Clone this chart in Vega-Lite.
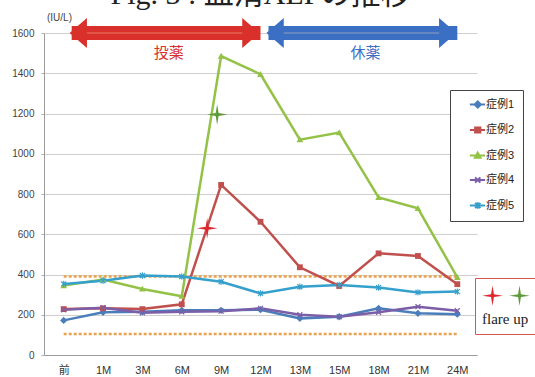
{
  "$schema": "https://vega.github.io/schema/vega-lite/v6.json",
  "width": 433,
  "height": 322,
  "autosize": {"type": "none"},
  "padding": {"left": 44, "top": 33, "right": 58, "bottom": 22},
  "background": "white",
  "title": {
    "text": "Fig. 3 : 血清ALPの推移",
    "anchor": "middle",
    "font": "Liberation Serif, Noto Sans CJK JP",
    "fontSize": 30,
    "fontWeight": "normal",
    "color": "#222222",
    "offset": 2
  },
  "config": {
    "view": {"stroke": null},
    "font": "Liberation Sans, Noto Sans CJK JP"
  },
  "datasets": {
    "alp": [
      {"group": "症例1", "time": "前", "alp": 172},
      {"group": "症例1", "time": "1M", "alp": 212},
      {"group": "症例1", "time": "3M", "alp": 215},
      {"group": "症例1", "time": "6M", "alp": 222},
      {"group": "症例1", "time": "9M", "alp": 222},
      {"group": "症例1", "time": "12M", "alp": 225},
      {"group": "症例1", "time": "13M", "alp": 182},
      {"group": "症例1", "time": "15M", "alp": 190},
      {"group": "症例1", "time": "18M", "alp": 232},
      {"group": "症例1", "time": "21M", "alp": 207},
      {"group": "症例1", "time": "24M", "alp": 203},
      {"group": "症例2", "time": "前", "alp": 228},
      {"group": "症例2", "time": "1M", "alp": 232},
      {"group": "症例2", "time": "3M", "alp": 228},
      {"group": "症例2", "time": "6M", "alp": 252},
      {"group": "症例2", "time": "9M", "alp": 845},
      {"group": "症例2", "time": "12M", "alp": 662},
      {"group": "症例2", "time": "13M", "alp": 436},
      {"group": "症例2", "time": "15M", "alp": 343},
      {"group": "症例2", "time": "18M", "alp": 505},
      {"group": "症例2", "time": "21M", "alp": 492},
      {"group": "症例2", "time": "24M", "alp": 352},
      {"group": "症例3", "time": "前", "alp": 345},
      {"group": "症例3", "time": "1M", "alp": 375},
      {"group": "症例3", "time": "3M", "alp": 328},
      {"group": "症例3", "time": "6M", "alp": 292},
      {"group": "症例3", "time": "9M", "alp": 1485},
      {"group": "症例3", "time": "12M", "alp": 1395},
      {"group": "症例3", "time": "13M", "alp": 1070},
      {"group": "症例3", "time": "15M", "alp": 1105},
      {"group": "症例3", "time": "18M", "alp": 783},
      {"group": "症例3", "time": "21M", "alp": 729},
      {"group": "症例3", "time": "24M", "alp": 386},
      {"group": "症例4", "time": "前", "alp": 225},
      {"group": "症例4", "time": "1M", "alp": 235},
      {"group": "症例4", "time": "3M", "alp": 210},
      {"group": "症例4", "time": "6M", "alp": 215},
      {"group": "症例4", "time": "9M", "alp": 218},
      {"group": "症例4", "time": "12M", "alp": 232},
      {"group": "症例4", "time": "13M", "alp": 200},
      {"group": "症例4", "time": "15M", "alp": 190},
      {"group": "症例4", "time": "18M", "alp": 212},
      {"group": "症例4", "time": "21M", "alp": 240},
      {"group": "症例4", "time": "24M", "alp": 220},
      {"group": "症例5", "time": "前", "alp": 353},
      {"group": "症例5", "time": "1M", "alp": 369},
      {"group": "症例5", "time": "3M", "alp": 395},
      {"group": "症例5", "time": "6M", "alp": 390},
      {"group": "症例5", "time": "9M", "alp": 364},
      {"group": "症例5", "time": "12M", "alp": 306},
      {"group": "症例5", "time": "13M", "alp": 339},
      {"group": "症例5", "time": "15M", "alp": 348},
      {"group": "症例5", "time": "18M", "alp": 335},
      {"group": "症例5", "time": "21M", "alp": 311},
      {"group": "症例5", "time": "24M", "alp": 315}
    ],
    "flare": [
      {"group": "症例2", "time": "9M", "alp": 630},
      {"group": "症例3", "time": "9M", "alp": 1195}
    ],
    "limits": [
      {"limit": 104},
      {"limit": 390}
    ],
    "phases": [
      {"group": "投薬", "start": "前", "end": "12M", "mid": "6M"},
      {"group": "休薬", "start": "12M", "end": "24M", "mid": "18M"}
    ]
  },
  "layer": [
    {
      "data": {"name": "limits"},
      "mark": {"type": "rule", "color": "#e9a24e", "strokeWidth": 2.5, "strokeDash": [3, 2]},
      "encoding": {
        "x": {
          "datum": "前",
          "type": "ordinal",
          "scale": {"type": "point", "padding": 0.5, "domain": ["前", "1M", "3M", "6M", "9M", "12M", "13M", "15M", "18M", "21M", "24M"]},
          "axis": {
            "title": null,
            "labelAngle": 0,
            "labelFontSize": 11,
            "labelColor": "#333333",
            "labelPadding": 9,
            "domainColor": "#9a9a9a",
            "ticks": false,
            "grid": false
          }
        },
        "x2": {"datum": "24M"},
        "y": {
          "field": "limit",
          "type": "quantitative",
          "scale": {"domain": [0, 1600], "nice": false},
          "axis": {
            "values": [0, 200, 400, 600, 800, 1000, 1200, 1400, 1600],
            "format": "d",
            "title": "(IU/L)",
            "titleAngle": 0,
            "titleAlign": "center",
            "titleBaseline": "middle",
            "titleX": 15,
            "titleY": -16,
            "titleFontSize": 10,
            "titleFontWeight": "normal",
            "titleColor": "#444444",
            "labelFontSize": 10,
            "labelColor": "#444444",
            "labelPadding": 7,
            "tickSize": 3,
            "tickColor": "#b0b0b0",
            "domainColor": "#9a9a9a",
            "gridColor": "#cfcfcf",
            "gridWidth": 1
          }
        }
      }
    },
    {
      "data": {"name": "alp"},
      "mark": {"type": "line", "strokeWidth": 2.5},
      "encoding": {
        "x": {"field": "time", "type": "ordinal"},
        "y": {"field": "alp", "type": "quantitative"},
        "color": {
          "field": "group",
          "type": "nominal",
          "scale": {
            "domain": ["症例1", "症例2", "症例3", "症例4", "症例5", "投薬", "休薬"],
            "range": ["#4a7ebb", "#c0504d", "#93c247", "#7b5ea7", "#35a0cc", "#d9302c", "#3a6fc4"]
          },
          "legend": {
            "values": ["症例1", "症例2", "症例3", "症例4", "症例5"],
            "title": null,
            "orient": "none",
            "legendX": 406,
            "legendY": 57,
            "strokeColor": "#444444",
            "fillColor": "white",
            "padding": 8,
            "symbolOffset": 8,
            "rowPadding": 10.5,
            "labelFontSize": 11,
            "labelColor": "#222222",
            "labelOffset": 7,
            "symbolSize": 110,
            "symbolStrokeWidth": 2,
            "encode": {
              "symbols": {
                "update": {
                  "shape": {"signal": "datum.value == '症例1' ? 'M-0.5,0L2.4,0M1,-0.6L1.6,0L1,0.6L0.4,0Z' : datum.value == '症例2' ? 'M-0.5,0L2.4,0M0.5,-0.5L1.5,-0.5L1.5,0.5L0.5,0.5Z' : datum.value == '症例3' ? 'M-0.5,0L2.4,0M1,-0.55L1.55,0.45L0.45,0.45Z' : datum.value == '症例4' ? 'M-0.5,0L2.4,0M0.5,-0.5L1.5,0.5M1.5,-0.5L0.5,0.5' : 'M-0.5,0L2.4,0M0.5,-0.5L1.5,0.5M1.5,-0.5L0.5,0.5M1,-0.6L1,0.6'"},
                  "fill": {"scale": "color", "field": "value"},
                  "stroke": {"scale": "color", "field": "value"},
                  "opacity": {"value": 1}
                }
              }
            }
          }
        }
      }
    },
    {
      "data": {"name": "alp"},
      "mark": {"type": "point", "filled": true, "opacity": 1, "size": 34},
      "encoding": {
        "x": {"field": "time", "type": "ordinal"},
        "y": {"field": "alp", "type": "quantitative"},
        "color": {"field": "group", "type": "nominal"},
        "shape": {
          "field": "group",
          "type": "nominal",
          "scale": {
            "domain": ["症例1", "症例2", "症例3", "症例4", "症例5"],
            "range": [
              "M0,-1.25L1.25,0L0,1.25L-1.25,0Z",
              "M-1,-1L1,-1L1,1L-1,1Z",
              "M0,-1.15L1.15,0.9L-1.15,0.9Z",
              "M-1,-0.7L-0.7,-1L0,-0.3L0.7,-1L1,-0.7L0.3,0L1,0.7L0.7,1L0,0.3L-0.7,1L-1,0.7L-0.3,0Z",
              "M-1,-0.7L-0.7,-1L0,-0.3L0.7,-1L1,-0.7L0.3,0L1,0.7L0.7,1L0,0.3L-0.7,1L-1,0.7L-0.3,0ZM-0.18,-1.1L0.18,-1.1L0.18,1.1L-0.18,1.1Z"
            ]
          },
          "legend": null
        }
      }
    },
    {
      "data": {"name": "phases"},
      "mark": {"type": "rule", "strokeWidth": 14, "xOffset": 8},
      "encoding": {
        "x": {"field": "start", "type": "ordinal"},
        "x2": {"field": "end"},
        "y": {"datum": 1600, "type": "quantitative"},
        "color": {"field": "group", "type": "nominal"}
      }
    },
    {
      "data": {"name": "phases"},
      "mark": {"type": "rule", "strokeWidth": 1.5, "color": "#ffd8b0", "opacity": 0.3, "xOffset": 14, "x2Offset": -10},
      "encoding": {
        "x": {"field": "start", "type": "ordinal"},
        "x2": {"field": "end"},
        "y": {"datum": 1600, "type": "quantitative"}
      }
    },
    {
      "data": {"name": "phases"},
      "mark": {"type": "point", "filled": true, "opacity": 1, "size": 900, "xOffset": 6, "shape": "M0,0L1.15,-1L1.15,1Z"},
      "encoding": {
        "x": {"field": "start", "type": "ordinal"},
        "y": {"datum": 1600, "type": "quantitative"},
        "color": {"field": "group", "type": "nominal"}
      }
    },
    {
      "data": {"name": "phases"},
      "mark": {"type": "point", "filled": true, "opacity": 1, "size": 900, "xOffset": -1, "shape": "M0,0L-1.15,-1L-1.15,1Z"},
      "encoding": {
        "x": {"field": "end", "type": "ordinal"},
        "y": {"datum": 1600, "type": "quantitative"},
        "color": {"field": "group", "type": "nominal"}
      }
    },
    {
      "data": {"name": "phases"},
      "mark": {"type": "text", "fontSize": 15, "dx": -13, "dy": 20, "baseline": "middle", "font": "Noto Sans CJK JP"},
      "encoding": {
        "x": {"field": "mid", "type": "ordinal"},
        "y": {"datum": 1600, "type": "quantitative"},
        "text": {"field": "group"},
        "color": {"field": "group", "type": "nominal"}
      }
    },
    {
      "data": {"name": "flare"},
      "transform": [{"filter": "datum.group == '症例2'"}],
      "mark": {"type": "point", "filled": true, "opacity": 1, "size": 420, "xOffset": -14, "shape": "M0,-1L0.14,-0.14L1,0L0.14,0.14L0,1L-0.14,0.14L-1,0L-0.14,-0.14Z"},
      "encoding": {
        "x": {"field": "time", "type": "ordinal"},
        "y": {"field": "alp", "type": "quantitative"},
        "fill": {
          "field": "group",
          "type": "nominal",
          "scale": {"domain": ["症例2", "症例3"], "range": ["#e0262e", "#5e9b3c"]},
          "legend": {
            "title": "flare up",
            "orient": "none",
            "legendX": 431,
            "legendY": 245,
            "direction": "horizontal",
            "columns": 2,
            "titleOrient": "bottom",
            "titleFont": "Liberation Serif",
            "titleFontSize": 15,
            "titleFontWeight": "normal",
            "titleColor": "#222222",
            "titlePadding": 6,
            "labelExpr": "''",
            "labelOffset": 0,
            "columnPadding": 6,
            "symbolType": "M0,-1L0.14,-0.14L1,0L0.14,0.14L0,1L-0.14,0.14L-1,0L-0.14,-0.14Z",
            "symbolSize": 420,
            "symbolStrokeWidth": 0,
            "strokeColor": "#d9534f",
            "fillColor": "white",
            "padding": 7,
            "encode": {"legend": {"update": {"strokeDash": {"value": [2, 2]}}}}
          }
        }
      }
    },
    {
      "data": {"name": "flare"},
      "transform": [{"filter": "datum.group == '症例3'"}],
      "mark": {"type": "point", "filled": true, "opacity": 1, "size": 420, "xOffset": -4, "shape": "M0,-1L0.14,-0.14L1,0L0.14,0.14L0,1L-0.14,0.14L-1,0L-0.14,-0.14Z"},
      "encoding": {
        "x": {"field": "time", "type": "ordinal"},
        "y": {"field": "alp", "type": "quantitative"},
        "fill": {"field": "group", "type": "nominal"}
      }
    }
  ]
}
